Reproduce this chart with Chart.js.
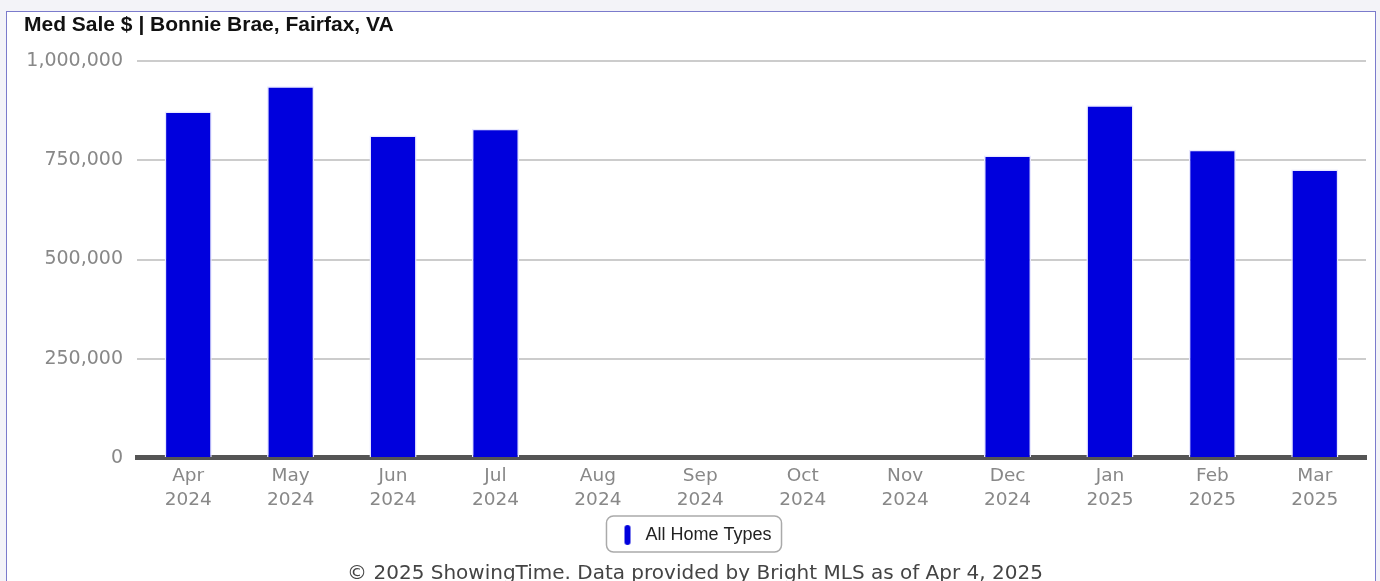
<!DOCTYPE html>
<html>
<head>
<meta charset="utf-8">
<script src="https://cdn.jsdelivr.net/npm/chart.js@4.4.1/dist/chart.umd.min.js"></script>
<style>
  html, body { margin: 0; padding: 0; background: #f3f3f8; width: 1380px; height: 581px; overflow: hidden; }
  #box { position: absolute; left: 6px; top: 11px; width: 1368px; height: 600px; border: 1px solid #7b7bcc; background: #fff; }
  #wrap { position: relative; width: 1368px; height: 574px; }
</style>
</head>
<body>
<div id="box"><div id="wrap"><canvas id="graficoMedSale"></canvas></div></div>
<script>
const meses = [['Apr', '2024'], ['May', '2024'], ['Jun', '2024'], ['Jul', '2024'], ['Aug', '2024'], ['Sep', '2024'],
  ['Oct', '2024'], ['Nov', '2024'], ['Dec', '2024'], ['Jan', '2025'], ['Feb', '2025'], ['Mar', '2025']];
const medSale = [873000, 937000, 813000, 830000, null, null, null, null, 762000, 889000, 777000, 727000];
const yTicks = [0, 250000, 500000, 750000, 1000000];

// marcador da legenda: pilula azul vertical
const pill = document.createElement('canvas');
pill.width = 8; pill.height = 22;
(() => {
  const c = pill.getContext('2d');
  c.fillStyle = '#0000dd';
  c.beginPath();
  c.roundRect(1, 1, 6, 20, 3);
  c.fill();
})();

const legendBox = {
  id: 'legendBox',
  afterDraw(chart) {
    const hb = chart.legend.legendHitBoxes[0];
    if (!hb) return;
    const c = chart.ctx;
    c.save();
    c.strokeStyle = '#aaaaaa';
    c.lineWidth = 1.5;
    c.beginPath();
    c.roundRect(hb.left - 12, hb.top - 10, hb.width + 22, hb.height + 18, 7);
    c.stroke();
    c.restore();
  }
};

const ctx = document.getElementById('graficoMedSale').getContext('2d');
new Chart(ctx, {
  type: 'bar',
  data: {
    labels: meses,
    datasets: [{
      label: 'All Home Types',
      data: medSale,
      backgroundColor: '#0000dd',
      borderColor: '#e8e8ff',
      borderWidth: 1.5,
      barPercentage: 0.46,
      categoryPercentage: 1
    }]
  },
  options: {
    responsive: true,
    maintainAspectRatio: false,
    animation: false,
    layout: { padding: { left: 17, right: 9, top: 0, bottom: 0 } },
    plugins: {
      title: {
        display: true,
        text: 'Med Sale $ | Bonnie Brae, Fairfax, VA',
        align: 'start',
        color: '#111',
        font: { size: 21, family: 'Liberation Sans', weight: 'bold' },
        padding: { top: 1, bottom: 23 }
      },
      subtitle: {
        display: true,
        position: 'bottom',
        text: '\u00a9 2025 ShowingTime. Data provided by Bright MLS as of Apr 4, 2025',
        color: '#444',
        font: { size: 20, family: 'DejaVu Sans' },
        padding: { top: 8, bottom: 0 }
      },
      legend: {
        position: 'bottom',
        labels: {
          usePointStyle: true,
          pointStyle: pill,
          color: '#222',
          font: { size: 18, family: 'Liberation Sans' },
          padding: 16
        }
      },
      tooltip: { enabled: false }
    },
    scales: {
      x: {
        grid: { display: false },
        border: { display: true, color: '#555', width: 5 },
        ticks: {
          color: '#888',
          font: { size: 18.5, family: 'DejaVu Sans', lineHeight: 1.3 },
          maxRotation: 0,
          padding: -2
        }
      },
      y: {
        min: 0,
        max: 1000000,
        afterBuildTicks: (s) => { s.ticks = yTicks.map(v => ({ value: v })); },
        afterFit: (s) => { s.width = 113; },
        border: { display: false },
        grid: { color: '#cccccc', lineWidth: 2, drawTicks: false },
        ticks: {
          color: '#888',
          font: { size: 19, family: 'DejaVu Sans' },
          padding: 14,
          callback: (v) => v.toLocaleString('en-US')
        }
      }
    }
  },
  plugins: [legendBox]
});
</script>
</body>
</html>
